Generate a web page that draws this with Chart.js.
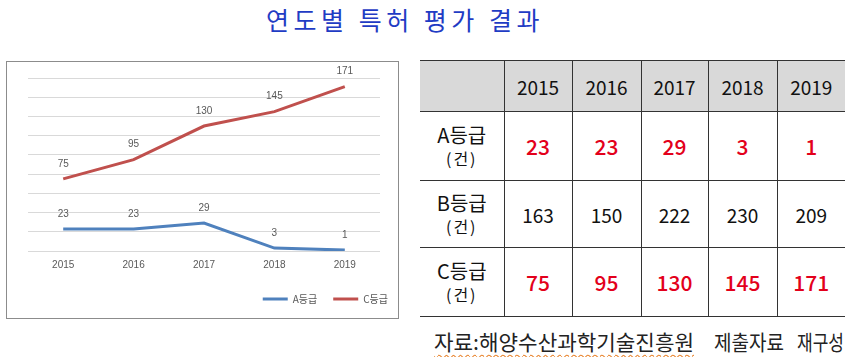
<!DOCTYPE html>
<html>
<head>
<meta charset="utf-8">
<script src="https://cdn.jsdelivr.net/npm/chart.js@4"></script>
<style>
  html, body { margin:0; padding:0; background:#fff; width:850px; height:357px; overflow:hidden;
    font-family: "Noto Sans CJK KR", "Noto Sans", sans-serif; }
  #title { position:absolute; left:0; width:810px; top:3px; text-align:center; font-size:25px;
    letter-spacing:4.5px; color:#1f3cc4; line-height:32px; }
  #box { position:absolute; left:6px; top:61px; width:391px; height:256px; border:1px solid #8c8c8c; }
  #box canvas { position:absolute; left:0; top:0; }
  table { position:absolute; left:420px; top:60px; border-collapse:collapse; table-layout:fixed; }
  td { border:1.5px solid #333; text-align:center; padding:0; color:#111; }
  tr td:first-child { border-left:none; }
  tr td:last-child { border-right:none; }
  tr.hd td { background:#d9d9d9; height:50px; font-size:19px; }
  td.lab { font-size:20px; line-height:22px; }
  td.lab span { font-size:16px; letter-spacing:2px; }
  td.red { color:#e3001b; font-size:21px; font-weight:500; }
  td.blk { font-size:19px; }
  .src { position:absolute; top:326px; font-size:21px; color:#222; white-space:pre; line-height:30px;
    transform-origin:0 50%; }
  .src.u { text-decoration: underline wavy #e8822a; text-decoration-thickness:1px; text-underline-offset:4px; }
</style>
</head>
<body>
<div id="title">연도별 특허 평가 결과</div>
<div id="box"><canvas id="c" width="391" height="256"></canvas></div>
<table id="tbl"></table>
<span class="src u" data-x="434" data-w="260">자료:해양수산과학기술진흥원</span>
<span class="src" data-x="714" data-w="70">제출자료</span>
<span class="src" data-x="797" data-w="47">재구성</span>
<script>
const years = ["2015", "2016", "2017", "2018", "2019"];
const gradeA = [23, 23, 29, 3, 1];
const gradeB = [163, 150, 222, 230, 209];
const gradeC = [75, 95, 130, 145, 171];
const seriesNames = ["A등급", "C등급"];
const rowNames = ["A등급", "B등급", "C등급"];
const yTicks = [0, 20, 40, 60, 80, 100, 120, 140, 160, 180];

// source text fitting
document.querySelectorAll('.src').forEach(el => {
  const w = el.getBoundingClientRect().width;
  const target = parseFloat(el.dataset.w);
  el.style.left = el.dataset.x + 'px';
  el.style.transform = 'scaleX(' + (target / w) + ')';
});

// table
(function(){
  const t = document.getElementById('tbl');
  const widths = [84, 68, 69, 67, 69, 68];
  let html = '<colgroup>' + widths.map(w => '<col style="width:' + w + 'px">').join('') + '</colgroup>';
  html += '<tr class="hd"><td></td>' + years.map(y => '<td>' + y + '</td>').join('') + '</tr>';
  const rows = [gradeA, gradeB, gradeC];
  const heights = [69, 67, 69];
  rows.forEach((r, i) => {
    const cls = i === 1 ? 'blk' : 'red';
    html += '<tr style="height:' + heights[i] + 'px"><td class="lab">' + rowNames[i] + '<br><span>(건)</span></td>' +
      r.map(v => '<td class="' + cls + '">' + v + '</td>').join('') + '</tr>';
  });
  t.innerHTML = html;
})();

const labelPlugin = {
  id: 'pointLabels',
  afterDatasetsDraw(chart) {
    const ctx = chart.ctx;
    ctx.save();
    ctx.font = '10px "Liberation Sans", "DejaVu Sans", sans-serif';
    ctx.fillStyle = '#595959';
    ctx.textAlign = 'center';
    ctx.textBaseline = 'middle';
    chart.data.datasets.forEach((ds, i) => {
      const meta = chart.getDatasetMeta(i);
      meta.data.forEach((pt, j) => {
        ctx.fillText(String(ds.data[j]), pt.x, pt.y - 15);
      });
    });
    ctx.restore();
  }
};

new Chart(document.getElementById('c'), {
  type: 'line',
  data: {
    labels: years,
    datasets: [
      { label: seriesNames[0], data: gradeA, borderColor: '#4f81bd', backgroundColor: '#4f81bd',
        borderWidth: 3, pointRadius: 0, tension: 0 },
      { label: seriesNames[1], data: gradeC, borderColor: '#c0504d', backgroundColor: '#c0504d',
        borderWidth: 3, pointRadius: 0, tension: 0 }
    ]
  },
  options: {
    responsive: false,
    animation: false,
    devicePixelRatio: 1,
    layout: { padding: { left: 21, right: -6, top: 16, bottom: 4 } },
    plugins: {
      legend: {
        position: 'bottom', align: 'end',
        labels: { usePointStyle: true, pointStyle: 'line', pointStyleWidth: 25, boxHeight: 10,
          color: '#595959', font: { size: 10, family: '"Noto Sans CJK KR", sans-serif' }, padding: 16 }
      },
      tooltip: { enabled: false }
    },
    scales: {
      x: {
        offset: true,
        grid: { display: false, drawTicks: false },
        border: { display: false },
        ticks: { color: '#595959', font: { size: 10, family: '"Liberation Sans", sans-serif' }, padding: 8 },
        afterFit(axis) { axis.height = 27; }
      },
      y: {
        min: 0, max: 180,
        afterBuildTicks(axis) { axis.ticks = yTicks.map(v => ({ value: v })); },
        grid: { color: '#d9d9d9', drawTicks: false },
        border: { display: false },
        ticks: { display: false }
      },
      yR: {
        position: 'right',
        grid: { display: false },
        border: { display: false },
        ticks: { display: false },
        afterFit(axis) { axis.width = 24; }
      }
    }
  },
  plugins: [labelPlugin]
});
</script>
</body>
</html>
